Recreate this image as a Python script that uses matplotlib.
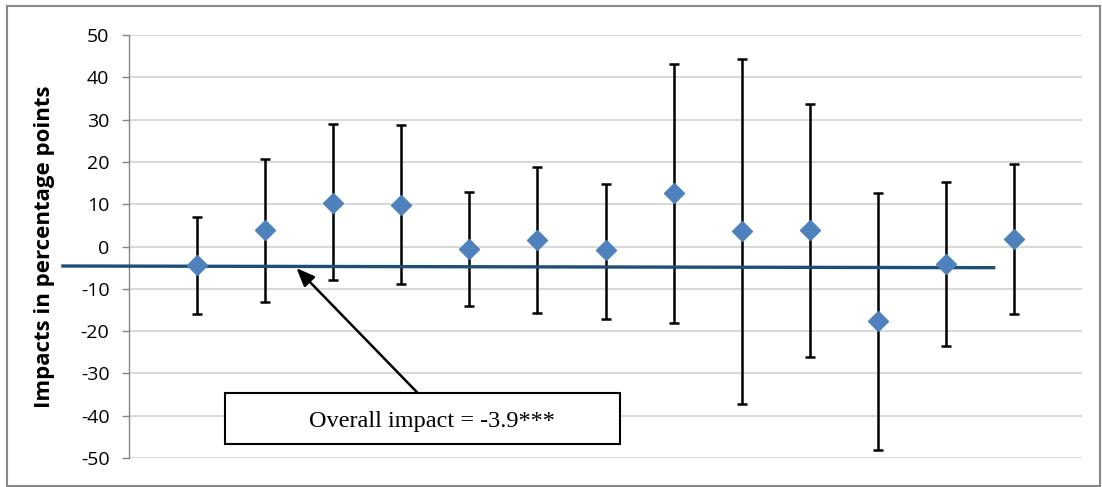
import matplotlib.pyplot as plt
from matplotlib.patches import Rectangle

plt.rcParams['axes.unicode_minus'] = False

# point estimates and 95% interval bounds
positions = [1, 2, 3, 4, 5, 6, 7, 8, 9, 10, 11, 12, 13]
impact = [-4.4, 3.9, 10.4, 9.8, -0.5, 1.5, -0.9, 12.6, 3.7, 4.0, -17.6, -4.2, 1.8]
upper = [7.0, 20.8, 29.0, 28.7, 13.0, 18.9, 14.8, 43.1, 44.3, 33.7, 12.6, 15.2, 19.6]
lower = [-16.0, -13.1, -7.9, -8.8, -14.1, -15.8, -17.1, -18.0, -37.2, -26.0, -48.0, -23.6, -16.0]

# overall impact line (drawn as a shape, slightly tilted)
overall_x = [-0.97, 12.7]
overall_y = [-4.6, -5.0]
yticks = list(range(-50, 51, 10))

fig = plt.figure(figsize=(11.02, 4.87), dpi=100)
ax = fig.add_axes([0.117, 0.0595, 0.865, 0.8685])

err_lo = [m - l for m, l in zip(impact, lower)]
err_hi = [u - m for m, u in zip(impact, upper)]

ax.errorbar(positions, impact, yerr=[err_lo, err_hi], fmt='none',
            ecolor='black', elinewidth=1.8, capsize=3.8, capthick=1.8, zorder=3)
ax.plot(overall_x, overall_y, color='#1F4E79', lw=2.4, clip_on=False, zorder=4)
ax.plot(positions, impact, linestyle='none', marker='D', ms=10,
        color='#4F81BD', markeredgecolor='#4F81BD', zorder=5)

ax.set_xlim(0, 14)
ax.set_ylim(-50, 50)
ax.set_yticks(yticks)
ax.set_xticks([])
ax.yaxis.grid(True, color='#D9D9D9', lw=1.5)
ax.set_axisbelow(True)
for s in ['top', 'right', 'bottom']:
    ax.spines[s].set_visible(False)
ax.spines['left'].set_color('#868686')
ax.spines['left'].set_linewidth(1.0)
ax.tick_params(axis='y', length=5, width=1.0, color='#868686',
               labelsize=14, pad=9)
for lab in ax.get_yticklabels():
    lab.set_fontfamily('Open Sans')

ax.set_ylabel('Impacts in percentage points', fontsize=16, fontweight='bold',
              fontfamily='Open Sans')
ax.yaxis.set_label_coords(-0.078, 0.5)

# annotation box and arrow
ax.add_patch(Rectangle((1.41, -46.7), 5.8, 12.1, fc='white', ec='black',
                       lw=1.5, zorder=6, clip_on=False))
ax.text(4.45, -41.3, 'Overall impact = -3.9***', ha='center', va='center',
        fontsize=17.5, fontfamily='Liberation Serif', zorder=7)
ax.annotate('', xy=(2.46, -5.1), xytext=(4.24, -34.6),
            arrowprops=dict(arrowstyle='-|>,head_length=1.1,head_width=0.45',
                            color='black', lw=1.8, shrinkA=0, shrinkB=0),
            zorder=6)

fig.patches.append(Rectangle((0.0065, 0.002), 0.992, 0.986, transform=fig.transFigure,
                             fill=False, ec='#888888', lw=1.5))

fig.savefig('out.png', dpi=100)
